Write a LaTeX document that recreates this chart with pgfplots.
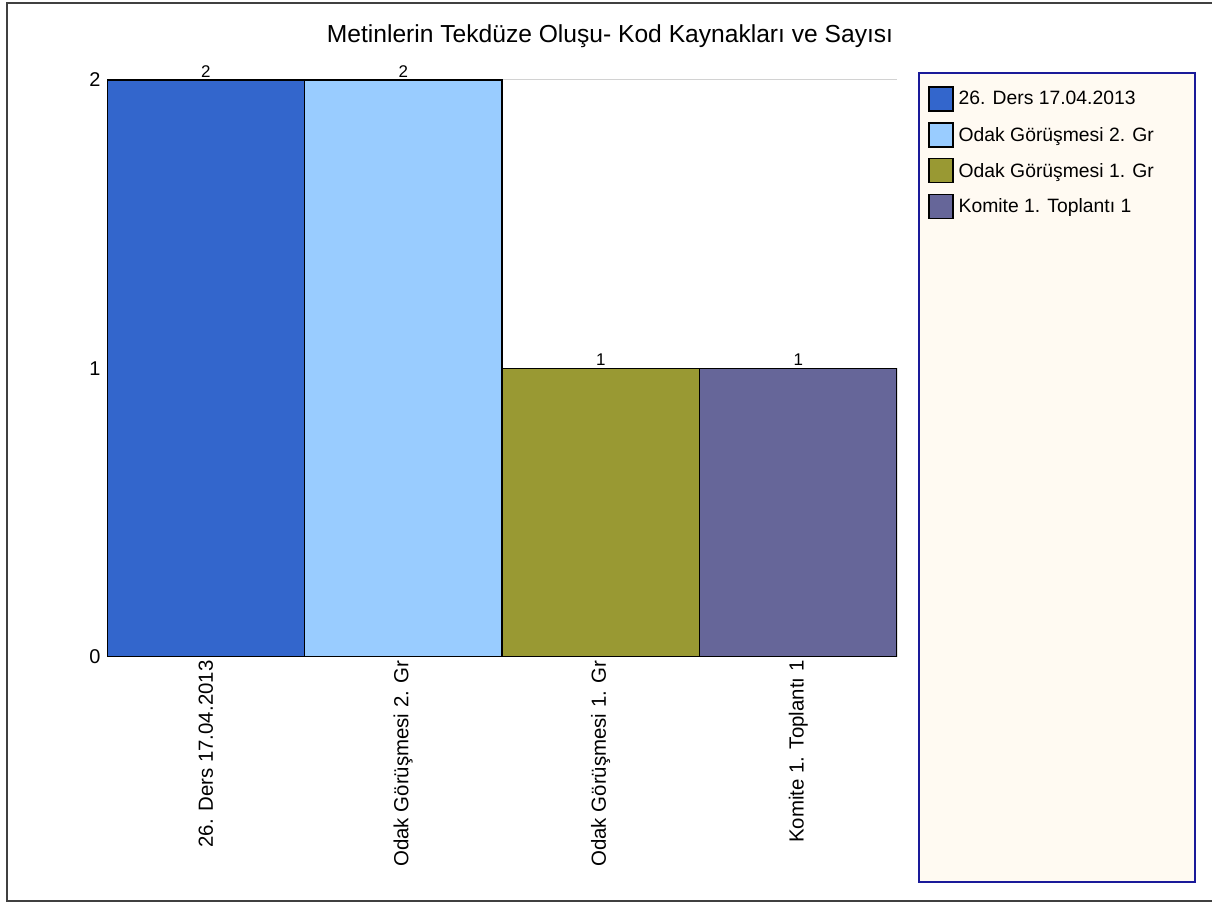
\documentclass[border=0pt]{standalone}
\usepackage{pgfplots}
\pgfplotsset{compat=1.18}
\usepackage{fontspec}
\setmainfont{Liberation Sans}
\definecolor{cA}{HTML}{3366CC}
\definecolor{cB}{HTML}{99CCFF}
\definecolor{cC}{HTML}{999933}
\definecolor{cD}{HTML}{666699}
\definecolor{legfill}{HTML}{FFFAF2}
\definecolor{legborder}{HTML}{1A1A99}
\definecolor{framecol}{HTML}{404040}
\pgfplotsset{mylegend/.style={legend image code/.code={\draw[##1,line width=1.5bp] (0bp,-12bp) rectangle (24bp,12bp);}}}
\begin{document}
\begin{tikzpicture}
\useasboundingbox (0bp,0bp) rectangle (1212bp,903bp);
\fill[white] (0bp,0bp) rectangle (1212bp,903bp);
\draw[line width=2bp, framecol] (1230bp,899.5bp) -- (7bp,899.5bp) -- (7bp,2bp) -- (1230bp,2bp);
\filldraw[fill=legfill, draw=legborder, line width=2bp] (919bp,21bp) rectangle (1195bp,830bp);
\node[font=\fontsize{24.7}{28}\selectfont, anchor=base] at (610bp,860bp) {Metinlerin Tekdüze Oluşu- Kod Kaynakları ve Sayısı};
\begin{axis}[
  at={(107bp,246bp)}, anchor=south west,
  scale only axis, width=790bp, height=577bp,
  xmin=0, xmax=4, ymin=0, ymax=2,
  ybar, bar width=1, bar shift=0pt,
  axis line style={draw=none},
  ytick={0,1,2},
  xtick={0.5,1.5,2.5,3.5},
  xticklabels={26. Ders 17.04.2013, Odak Görüşmesi 2. Gr, Odak Görüşmesi 1. Gr, Komite 1. Toplantı 1},
  x tick label style={rotate=90, anchor=east, font=\fontsize{20.5}{22}\selectfont},
  y tick label style={font=\fontsize{20}{22}\selectfont, xshift=-3bp},
  major tick length=0pt,
  ymajorgrids, major grid style={gray!35, line width=1bp},
  /pgf/number format/assume math mode=true,
  nodes near coords,
  every node near coord/.append style={font=\fontsize{17}{18}\selectfont, inner sep=2bp},
  legend style={at={(1.0392,0.9896)}, anchor=north west, draw=none, fill=none, inner sep=0pt,
    row sep=10.4bp, font=\fontsize{19.4}{21}\selectfont, nodes={inner sep=0pt},
    /tikz/every odd column/.append style={column sep=5bp}},
  legend cell align=left,
]
\addplot[fill=cA, draw=black, line width=1.5bp, mylegend] coordinates {(0.5,2)};
\addplot[fill=cB, draw=black, line width=1.5bp, mylegend] coordinates {(1.5,2)};
\addplot[fill=cC, draw=black, line width=1.5bp, mylegend] coordinates {(2.5,1)};
\addplot[fill=cD, draw=black, line width=1.5bp, mylegend] coordinates {(3.5,1)};
\legend{26. Ders 17.04.2013, Odak Görüşmesi 2. Gr, Odak Görüşmesi 1. Gr, Komite 1. Toplantı 1}
\end{axis}
\end{tikzpicture}
\end{document}
